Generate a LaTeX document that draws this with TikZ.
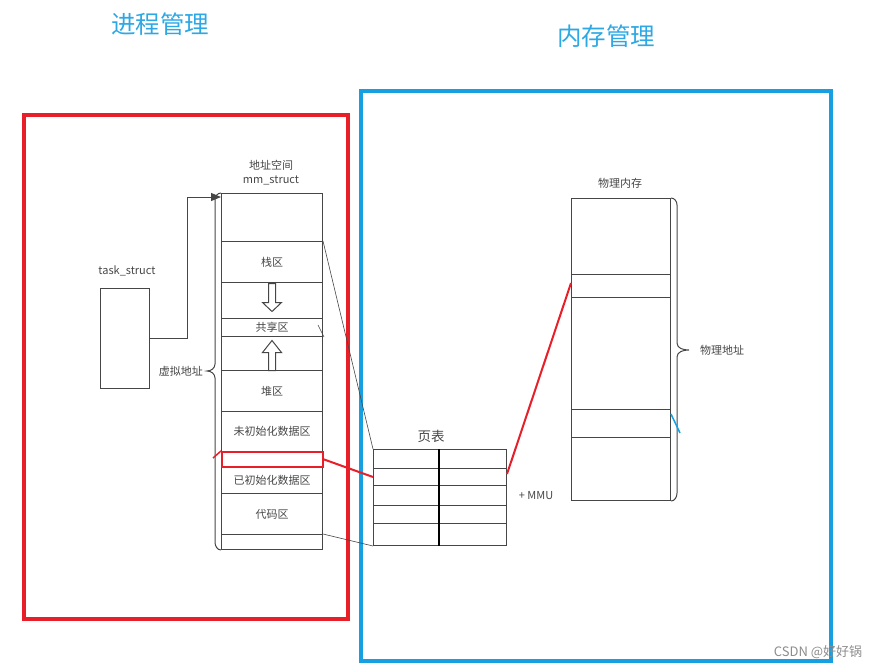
\documentclass[tikz,border=0pt]{standalone}
\usepackage{fontspec}
\setmainfont{Noto Sans CJK SC}
\usetikzlibrary{arrows.meta,calc}
\definecolor{myred}{RGB}{232,30,40}
\definecolor{myblue}{RGB}{22,160,226}
\definecolor{titleblue}{RGB}{45,168,228}
\definecolor{edge}{RGB}{70,70,70}
\definecolor{txt}{RGB}{70,70,70}
\begin{document}
\begin{tikzpicture}[x=1pt,y=-1pt,
  lbl/.style={font=\fontsize{11}{12}\selectfont, text=txt, inner sep=0},
  cell/.style={draw=edge, line width=1pt, inner sep=0, anchor=north west, font=\fontsize{11}{12}\selectfont, text=txt},
  vcell/.style={cell, minimum width=101},
  prow/.style={cell, minimum width=133},
  mcell/.style={cell, minimum width=99},
  title/.style={font=\fontsize{24.5}{27}\selectfont, text=titleblue, inner sep=0},
  frame/.style={line width=3.5pt, anchor=north west, inner sep=0},
  thin/.style={draw=edge, line width=0.6pt},
  hollow/.style={draw=edge, line width=1pt, fill=white}
]
\useasboundingbox (0,0) rectangle (884,670);

% titles
\node[title] (t1) at (160,24) {进程管理};
\node[title] (t2) at (606,36) {内存管理};

% frames
\node[frame, draw=myred, minimum width=324, minimum height=504] (procframe) at (22,113) {};
\node[frame, draw=myblue, minimum width=470, minimum height=570] (memframe) at (359,89) {};

% task_struct
\node[lbl] (tasklbl) at (127,271) {task\_struct};
\node[cell, minimum width=49, minimum height=100] (task) at (100,288) {};

% address space column
\node[lbl] (as1) at (271,165) {地址空间};
\node[lbl] (as2) at (271,180) {mm\_struct};
\node[vcell, minimum height=48] (c0) at (221,193) {};
\node[vcell, minimum height=41] (c1) at (221,241) {栈区};
\node[vcell, minimum height=36] (c2) at (221,282) {};
\node[vcell, minimum height=18] (c3) at (221,318) {共享区};
\node[vcell, minimum height=34] (c4) at (221,336) {};
\node[vcell, minimum height=41] (c5) at (221,370) {堆区};
\node[vcell, minimum height=40] (c6) at (221,411) {未初始化数据区};
\node[vcell, minimum height=27] (c8) at (221,466) {已初始化数据区};
\node[vcell, minimum height=41] (c9) at (221,493) {代码区};
\node[vcell, minimum height=15] (c10) at (221,534) {};
\node[vcell, minimum height=15, draw=myred, line width=1.5pt] (c7) at (221,451) {};

% hollow arrows
\draw[hollow, shift={(c2.center)}] (-3.5,-17) -- (3.5,-17) -- (3.5,2) -- (9.5,2) -- (0,11) -- (-9.5,2) -- (-3.5,2) -- cycle;
\draw[hollow, shift={(c4.center)}] (-3.5,17) -- (3.5,17) -- (3.5,-1) -- (9.5,-1) -- (0,-13) -- (-9.5,-1) -- (-3.5,-1) -- cycle;

% virtual address brace
\draw[edge, line width=1pt] (c0.north west) to[out=180,in=90] (215,200) -- (215,364)
  to[out=-90,in=0] (207,371) to[out=0,in=90] (215,378) -- (215,542) to[out=-90,in=180] (c10.south west);
\node[lbl, anchor=east] (vlbl) at (203,371) {虚拟地址};

% task -> address space
\draw[draw=edge, line width=1pt, -{Triangle[length=10pt,width=8pt]}] (task.east) -- ++(37,0) |- ($(c0.north west)+(0,4)$);

% page table
\node[font=\fontsize{13.5}{15}\selectfont, text=txt, inner sep=0] (ptl) at (431,436) {页表};
\node[prow, minimum height=19] (p1) at (373,449) {};
\node[prow, minimum height=17] (p2) at (373,468) {};
\node[prow, minimum height=20] (p3) at (373,485) {};
\node[prow, minimum height=18] (p4) at (373,505) {};
\node[prow, minimum height=22] (p5) at (373,523) {};
\draw[black, line width=2pt] ($(p1.north)+(-1,0)$) -- ($(p5.south)+(-1,0)$);
\node[lbl] (mmu) at (536,496) {+ MMU};

% thin gray connectors
\draw[thin] (c1.north east) -- (p1.north west);
\draw[thin] (c10.north east) -- (p5.south west);
\draw[thin] ($(c3.north east)+(-5,7)$) -- ($(c3.north east)+(1,19)$);

% physical memory
\node[lbl] (pmlbl) at (620,183) {物理内存};
\node[mcell, minimum height=76] (m0) at (571,198) {};
\node[mcell, minimum height=23] (m1) at (571,274) {};
\node[mcell, minimum height=112] (m2) at (571,297) {};
\node[mcell, minimum height=28] (m3) at (571,409) {};
\node[mcell, minimum height=63] (m4) at (571,437) {};

% physical address brace
\draw[edge, line width=1pt] (m0.north east) to[out=0,in=90] (677,205) -- (677,343)
  to[out=-90,in=180] (689,350) to[out=180,in=90] (677,357) -- (677,493) to[out=-90,in=0] (m4.south east);
\node[lbl, anchor=west] (palbl) at (700,350) {物理地址};

% red mapping lines
\coordinate (r0) at (213,458);
\draw[myred, line width=1.5pt] (r0) -- (c7.north west);
\draw[myred, line width=2pt] (c7.east) -- (p2.west);
\draw[myred, line width=2pt] ($(p2.east)+(0,-3)$) -- ($(m1.west)+(0,-3)$);

% blue small line
\coordinate (b0) at (680,433);
\draw[myblue, line width=1.5pt] ($(m3.north east)+(0,5)$) -- (b0);

% watermark
\node[font=\fontsize{13}{15}\selectfont, text=black!45, inner sep=0] (wm) at (818,652) {CSDN @好好锅};
\end{tikzpicture}
\end{document}
